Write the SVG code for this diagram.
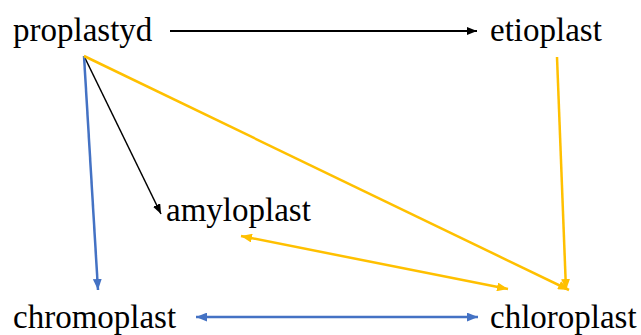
<svg xmlns="http://www.w3.org/2000/svg" width="641" height="335" viewBox="0 0 641 335">
<style>
text{font-family:"Liberation Serif","Times New Roman",serif;font-size:33px;fill:#000}
.k{stroke:#000;fill:none}
.b{stroke:#4472C4;stroke-width:2.5;fill:none}
.y{stroke:#FFC000;stroke-width:2.5;fill:none}
</style>
<defs>
<marker id="ak" viewBox="0 0 10 8" refX="10" refY="4" markerWidth="10" markerHeight="8" markerUnits="userSpaceOnUse" orient="auto-start-reverse"><path d="M0,0L10,4L0,8z" fill="#000"/></marker>
<marker id="ab" viewBox="0 0 10 8" refX="10" refY="4" markerWidth="11" markerHeight="9" markerUnits="userSpaceOnUse" orient="auto-start-reverse"><path d="M0,0L10,4L0,8z" fill="#4472C4"/></marker>
<marker id="ay" viewBox="0 0 10 8" refX="10" refY="4" markerWidth="11" markerHeight="9" markerUnits="userSpaceOnUse" orient="auto-start-reverse"><path d="M0,0L10,4L0,8z" fill="#FFC000"/></marker>
</defs>
<rect width="641" height="335" fill="#fff"/>
<g id="proplastyd"><text x="13" y="41">proplastyd</text></g>
<g id="etioplast"><text x="490" y="41">etioplast</text></g>
<g id="amyloplast"><text x="166" y="221">amyloplast</text></g>
<g id="chromoplast"><text x="13" y="328">chromoplast</text></g>
<g id="chloroplast"><text x="490" y="328">chloroplast</text></g>
<g id="connectors">
<line class="k" stroke-width="2.2" x1="170" y1="31" x2="477" y2="31" marker-end="url(#ak)"/>
<line class="k" stroke-width="1.5" x1="84" y1="56" x2="161" y2="214" marker-end="url(#ak)"/>
<line class="b" x1="84" y1="56" x2="98" y2="290" marker-end="url(#ab)"/>
<line class="y" x1="84" y1="56" x2="569" y2="290" marker-end="url(#ay)"/>
<line class="y" x1="557" y1="57" x2="566" y2="290" marker-end="url(#ay)"/>
<line class="y" x1="241" y1="236" x2="508" y2="289" marker-start="url(#ay)" marker-end="url(#ay)"/>
<line class="b" x1="196" y1="317" x2="478" y2="317" marker-start="url(#ab)" marker-end="url(#ab)"/>
</g>
</svg>
